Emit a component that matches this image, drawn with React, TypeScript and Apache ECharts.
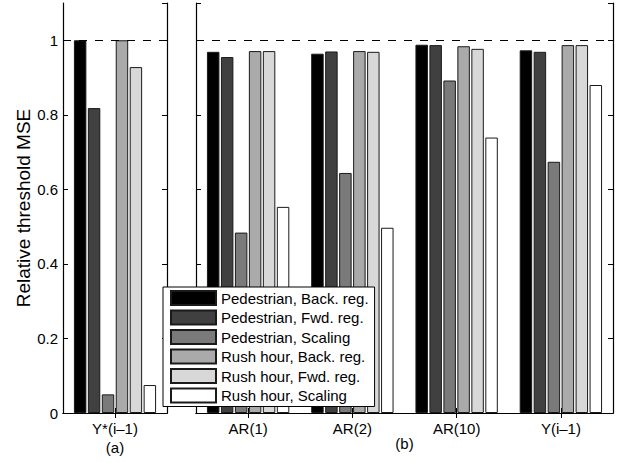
import React, { useEffect, useRef } from "react";
import * as echarts from "echarts";

// Categories of the two panels
const panelACategories = ["Y*(i–1)"];
const panelBCategories = ["AR(1)", "AR(2)", "AR(10)", "Y(i–1)"];

// Series names (legend order)
const seriesNames = [
  "Pedestrian, Back. reg.",
  "Pedestrian, Fwd. reg.",
  "Pedestrian, Scaling",
  "Rush hour, Back. reg.",
  "Rush hour, Fwd. reg.",
  "Rush hour, Scaling",
];

// Panel (a) values, one per series
const pedBackA = [1.0];
const pedFwdA = [0.818];
const pedScaleA = [0.05];
const rushBackA = [1.0];
const rushFwdA = [0.928];
const rushScaleA = [0.075];

// Panel (b) values, one per category
const pedBackB = [0.969, 0.964, 0.988, 0.973];
const pedFwdB = [0.955, 0.97, 0.987, 0.969];
const pedScaleB = [0.484, 0.644, 0.892, 0.674];
const rushBackB = [0.971, 0.971, 0.984, 0.987];
const rushFwdB = [0.971, 0.969, 0.977, 0.987];
const rushScaleB = [0.553, 0.497, 0.739, 0.88];

const yTicks = { min: 0, max: 1.1, interval: 0.2 };
const referenceLevel = 1;

const colors = ["#000000", "#404040", "#7a7a7a", "#aaaaaa", "#d8d8d8", "#ffffff"];
const FONT = "'Liberation Sans', Arial, Helvetica, sans-serif";

export default function App() {
  const ref = useRef<HTMLDivElement>(null);

  useEffect(() => {
    if (!ref.current) return;
    const chart = echarts.init(ref.current, undefined, { renderer: "svg" });

    const dataA = [pedBackA, pedFwdA, pedScaleA, rushBackA, rushFwdA, rushScaleA];
    const dataB = [pedBackB, pedFwdB, pedScaleB, rushBackB, rushFwdB, rushScaleB];

    const tickStyle = { show: true, inside: true, length: 5, lineStyle: { color: "#000", width: 1 } };
    const lineStyle = { show: true, lineStyle: { color: "#000", width: 1.2 } };

    const yBase = (gridIndex: number, position: "left" | "right", labels: boolean) => ({
      type: "value" as const,
      gridIndex,
      position,
      min: yTicks.min,
      max: yTicks.max,
      interval: yTicks.interval,
      axisLine: lineStyle,
      axisTick: tickStyle,
      splitLine: { show: false },
      axisLabel: {
        show: labels,
        showMaxLabel: false,
        color: "#000",
        fontSize: 15,
        fontFamily: FONT,
        margin: 5,
      },
    });

    const xBase = (gridIndex: number, position: "top" | "bottom", cats: string[], name?: string, nameGap?: number) => ({
      type: "category" as const,
      gridIndex,
      position,
      data: cats,
      axisLine: lineStyle,
      axisTick: { ...tickStyle, alignWithLabel: true },
      axisLabel: {
        show: position === "bottom",
        color: "#000",
        fontSize: 15,
        fontFamily: FONT,
        margin: 8,
      },
      name: name,
      nameLocation: "middle" as const,
      nameGap: nameGap,
      nameMoveOverlap: false,
      nameTextStyle: { color: "#000", fontSize: 15, fontFamily: FONT },
    });

    const refLine = {
      silent: true,
      symbol: ["none", "none"],
      label: { show: false },
      lineStyle: { color: "#000", type: [8, 8], width: 1 },
      data: [{ yAxis: referenceLevel }],
    };

    const series: any[] = [];
    seriesNames.forEach((name, i) => {
      const itemStyle = { color: colors[i], borderColor: "#1a1a1a", borderWidth: 1 };
      series.push({
        type: "bar",
        name,
        xAxisIndex: 0,
        yAxisIndex: 0,
        data: dataA[i],
        barCategoryGap: "21%",
        barGap: "12%",
        itemStyle,
        markLine: i === 0 ? refLine : undefined,
      });
      series.push({
        type: "bar",
        name,
        xAxisIndex: 2,
        yAxisIndex: 2,
        data: dataB[i],
        barCategoryGap: "21%",
        barGap: "12%",
        itemStyle,
        markLine: i === 0 ? refLine : undefined,
      });
    });

    chart.setOption({
      animation: false,
      backgroundColor: "#fff",
      textStyle: { fontFamily: FONT },
      grid: [
        { left: 63, right: 451, top: 3, bottom: 50, show: false },
        { left: 196, right: 5, top: 3, bottom: 50, show: false },
      ],
      xAxis: [
        xBase(0, "bottom", panelACategories, "(a)", 27),
        xBase(0, "top", panelACategories),
        xBase(1, "bottom", panelBCategories, "(b)", 23),
        xBase(1, "top", panelBCategories),
      ],
      yAxis: [
        {
          ...yBase(0, "left", true),
          name: "Relative threshold MSE",
          nameLocation: "middle",
          nameGap: 30,
          nameMoveOverlap: false,
          nameTextStyle: { color: "#000", fontSize: 19, fontFamily: FONT },
        },
        yBase(0, "right", false),
        yBase(1, "left", false),
        yBase(1, "right", false),
      ],
      legend: {
        data: seriesNames,
        orient: "vertical",
        left: 163,
        top: 287,
        icon: "rect",
        itemWidth: 45,
        itemHeight: 14,
        itemGap: 3.5,
        padding: [3, 6, 3, 7],
        backgroundColor: "#fff",
        borderColor: "#000",
        borderWidth: 1,
        textStyle: { color: "#000", fontSize: 15, fontFamily: FONT, lineHeight: 15 },
      },
      series,
    });

    return () => chart.dispose();
  }, []);

  return (
    <div
      ref={ref}
      style={{ position: "fixed", left: 0, top: 0, width: 618, height: 463, background: "#fff" }}
    />
  );
}
